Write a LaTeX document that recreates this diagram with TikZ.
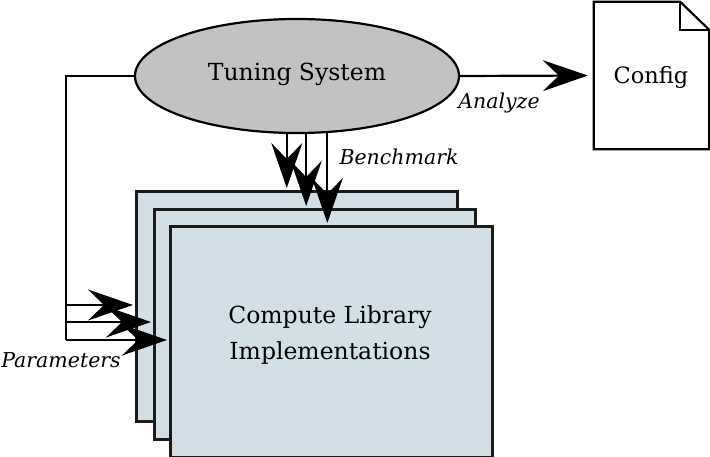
\documentclass[tikz,border=0pt]{standalone}
\usepackage{fontspec}
\setmainfont{DejaVu Serif}
\usetikzlibrary{arrows.meta,shapes.geometric,calc}
\definecolor{ellfill}{HTML}{C2C2C2}
\definecolor{libfill}{HTML}{D3DFE7}
\definecolor{libline}{HTML}{1A1A1A}
\begin{document}
\begin{tikzpicture}[x=1pt,y=-1pt,
  libbox/.style={draw=libline,line width=3pt,fill=libfill,anchor=north west,inner sep=0pt},
  bigarrow/.style={line width=2.2pt,-{Stealth[length=45pt,width=31pt,inset=16pt]}},
  lbl/.style={font=\fontsize{20.5}{24}\selectfont\itshape,inner sep=0pt},
  txt/.style={font=\fontsize{23.5}{36}\selectfont,align=center,inner sep=0pt}]
\useasboundingbox (0,0) rectangle (710,457);
% library stack
\node[libbox,minimum width=321pt,minimum height=230pt] (r1) at (135,190) {};
\node[libbox,minimum width=321pt,minimum height=230pt] (r2) at (153,208) {};
\node[libbox,minimum width=322pt,minimum height=231pt] (r3) at (169,225) {};
\node[txt] (libtxt) at (330,335) {Compute Library\\Implementations};
% tuning system
\node[ellipse,draw,line width=2.2pt,fill=ellfill,minimum width=324pt,minimum height=114pt,inner sep=0pt] (ts) at (297,76) {};
\node[txt] (tstxt) at (297,74) {Tuning System};
% config document
\node[minimum width=115pt,minimum height=147pt,inner sep=0pt] (cfg) at (651.5,75.5) {};
\draw[line width=2.2pt,line join=miter] (cfg.south west) -- (cfg.north west) -- ($(cfg.north east)+(-29,0)$) -- ($(cfg.north east)+(0,28)$) -- (cfg.south east) -- cycle;
\draw[line width=2.2pt] ($(cfg.north east)+(-29,0)$) -- ($(cfg.north east)+(-29,28)$) -- ($(cfg.north east)+(0,28)$);
\node[txt,font=\fontsize{22.5}{28}\selectfont] (cfgtxt) at (651,77) {Config};
% analyze arrow
\draw[bigarrow,shorten >=6pt] (ts.east) -- (cfg.west);
\node[lbl] (an) at (499,103) {Analyze};
% benchmark arrows
\draw[bigarrow,shorten >=2pt] (ts.-100) -- (ts.-100 |- r1.north);
\draw[bigarrow,shorten >=2pt] (ts.-81) -- (ts.-81 |- r2.north);
\draw[bigarrow,shorten >=2pt] (ts.-62) -- (ts.-62 |- r3.north);
\node[lbl] (bm) at (399,157) {Benchmark};
% parameters
\coordinate (p1) at (66,305);
\coordinate (p2) at (66,322);
\coordinate (p3) at (66,340);
\draw[line width=2.2pt] (ts.west) -| (p3);
\draw[bigarrow,shorten >=2pt] (p1) -- (p1 -| r1.west);
\draw[bigarrow,shorten >=2pt] (p2) -- (p2 -| r2.west);
\draw[bigarrow,shorten >=2pt] (p3) -- (p3 -| r3.west);
\node[lbl] (pm) at (61,360) {Parameters};
\end{tikzpicture}
\end{document}
